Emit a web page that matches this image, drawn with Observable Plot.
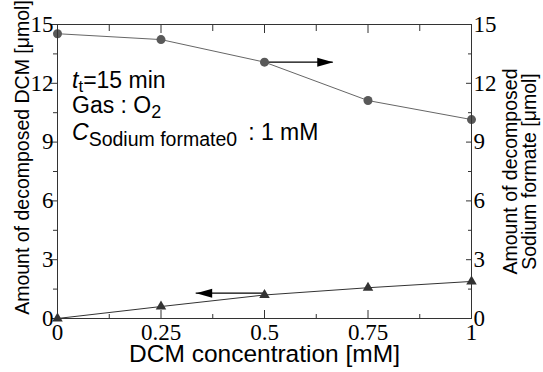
<!DOCTYPE html>
<html><head><meta charset="utf-8">
<script src="https://cdn.jsdelivr.net/npm/d3@7"></script>
<script src="https://cdn.jsdelivr.net/npm/@observablehq/plot@0.6"></script>
<style>
body{margin:0;background:#fff}
#chart{width:543px;height:372px}
svg{overflow:visible}
</style>
</head><body><div id="chart"></div>
<script>
// DCM concentration [mM]
const conc = [0, 0.25, 0.5, 0.75, 1];
// Amount of decomposed Sodium formate [μmol] (right axis, circles)
const formate = [14.53, 14.23, 13.08, 11.12, 10.15];
// Amount of decomposed DCM [μmol] (left axis, triangles)
const dcm = [0, 0.61, 1.2, 1.57, 1.89];
// tick values
const xMajor = [0, 0.25, 0.5, 0.75, 1];
const xMinor = [0.125, 0.375, 0.625, 0.875];
const yMajor = [0, 3, 6, 9, 12, 15];
const yMinor = [1.5, 4.5, 7.5, 10.5, 13.5];
// arrows pointing to the axis of each series
const arrowFrom = [0.5, 0.5];
const arrowTo = [0.666, 0.335];
const arrowY = [13.08, 1.29];
const arrowDir = ["right", "left"];
// texts
const xTitle = "DCM concentration [mM]";
const yTitleLeft = "Amount of decomposed DCM [μmol]";
const yTitleRight = "Amount of decomposed\nSodium formate [μmol]";

const formateRows = conc.map((x, i) => ({x, y: formate[i]}));
const dcmRows = conc.map((x, i) => ({x, y: dcm[i]}));
const arrows = arrowFrom.map((x1, i) => ({x1, x2: arrowTo[i], y: arrowY[i], dir: arrowDir[i]}));

const headRight = {draw(c) { c.moveTo(0, 0); c.lineTo(-16, -4.5); c.lineTo(-16, 4.5); c.closePath(); }};
const headLeft = {draw(c) { c.moveTo(0, 0); c.lineTo(16, -4.5); c.lineTo(16, 4.5); c.closePath(); }};

const serif = "'Liberation Serif','Times New Roman',serif";
const sans = "'Liberation Sans',Arial,sans-serif";
const axisColor = "#333";

const plot = Plot.plot({
  width: 543, height: 372,
  marginLeft: 57, marginRight: 72, marginTop: 24, marginBottom: 54,
  style: {fontFamily: sans, background: "#fff", color: "#000"},
  x: {domain: [0, 1], label: null},
  y: {domain: [0, 15], label: null},
  marks: [
    Plot.line(formateRows, {x: "x", y: "y", stroke: "#666", strokeWidth: 1}),
    Plot.line(dcmRows, {x: "x", y: "y", stroke: "#333", strokeWidth: 1}),
    Plot.ruleY(arrows, {x1: "x1", x2: "x2", y: "y", stroke: "#000", strokeWidth: 1.3}),
    Plot.dot(arrows, {filter: d => d.dir === "right", x: "x2", y: "y", symbol: headRight, fill: "#000", stroke: null}),
    Plot.dot(arrows, {filter: d => d.dir === "left", x: "x2", y: "y", symbol: headLeft, fill: "#000", stroke: null}),
    Plot.dot(formateRows, {x: "x", y: "y", r: 4.5, fill: "#595959", stroke: null}),
    Plot.dot(dcmRows, {x: "x", y: "y", symbol: "triangle", r: 3.9, fill: "#333", stroke: null}),
    Plot.frame({stroke: axisColor}),
    Plot.axisY(yMajor, {anchor: "left", tickSize: 6, tickPadding: -2, fontSize: 23, fontFamily: serif, stroke: axisColor, label: null}),
    Plot.axisY(yMinor, {anchor: "left", tickSize: 4, text: null, stroke: axisColor, label: null}),
    Plot.axisY(yMajor, {anchor: "right", tickSize: -6, tickPadding: 8, fontSize: 23, fontFamily: serif, stroke: axisColor, label: null}),
    Plot.axisY(yMinor, {anchor: "right", tickSize: -4, text: null, stroke: axisColor, label: null}),
    Plot.axisX(xMajor, {anchor: "bottom", tickSize: -8, tickPadding: 13, tickFormat: d => String(d), fontSize: 23, fontFamily: serif, stroke: axisColor, label: null}),
    Plot.axisX(xMinor, {anchor: "bottom", tickSize: -4, text: null, stroke: axisColor, label: null}),
    Plot.axisX(xMajor, {anchor: "top", tickSize: -8, text: null, stroke: axisColor, label: null}),
    Plot.axisX(xMinor, {anchor: "top", tickSize: -6, text: null, stroke: axisColor, label: null}),
    Plot.text([xTitle], {text: d => d, frameAnchor: "bottom", dy: 36, textAnchor: "middle", lineAnchor: "middle", fontSize: 24.5, fill: "#000"}),
    Plot.text([yTitleLeft], {text: d => d, frameAnchor: "left", dx: -35, dy: -14, rotate: -90, textAnchor: "middle", lineAnchor: "middle", fontSize: 19.5, fill: "#000"}),
    Plot.text([yTitleRight], {text: d => d, frameAnchor: "right", dx: 49, dy: 0, rotate: -90, textAnchor: "middle", lineAnchor: "middle", fontSize: 19.5, lineHeight: 0.95, fill: "#000"})
  ]
});
document.getElementById("chart").appendChild(plot);

// condition annotation with italic symbols and subscripts
const svg = d3.select(plot);
const x0 = plot.scale("x").apply(0) + 15;
const yTop = plot.scale("y").apply(15);
const g = svg.append("g").attr("font-family", sans).attr("fill", "#000").attr("font-size", 23).attr("text-anchor", "start");
const l1 = g.append("text").attr("x", x0).attr("y", yTop + 64);
l1.append("tspan").attr("font-style", "italic").text("t");
l1.append("tspan").attr("font-size", 17).attr("dy", 4).text("t");
l1.append("tspan").attr("dy", -4).text("=15 min");
const l2 = g.append("text").attr("x", x0).attr("y", yTop + 89);
l2.append("tspan").text("Gas : O");
l2.append("tspan").attr("font-size", 18).attr("dy", 5).text("2");
const l3 = g.append("text").attr("x", x0).attr("y", yTop + 116);
l3.append("tspan").attr("font-style", "italic").text("C");
l3.append("tspan").attr("font-size", 19.5).attr("dy", 6).text("Sodium formate0");
l3.append("tspan").attr("dy", -6).attr("dx", 11).text(": 1 mM");
</script>
</body></html>
